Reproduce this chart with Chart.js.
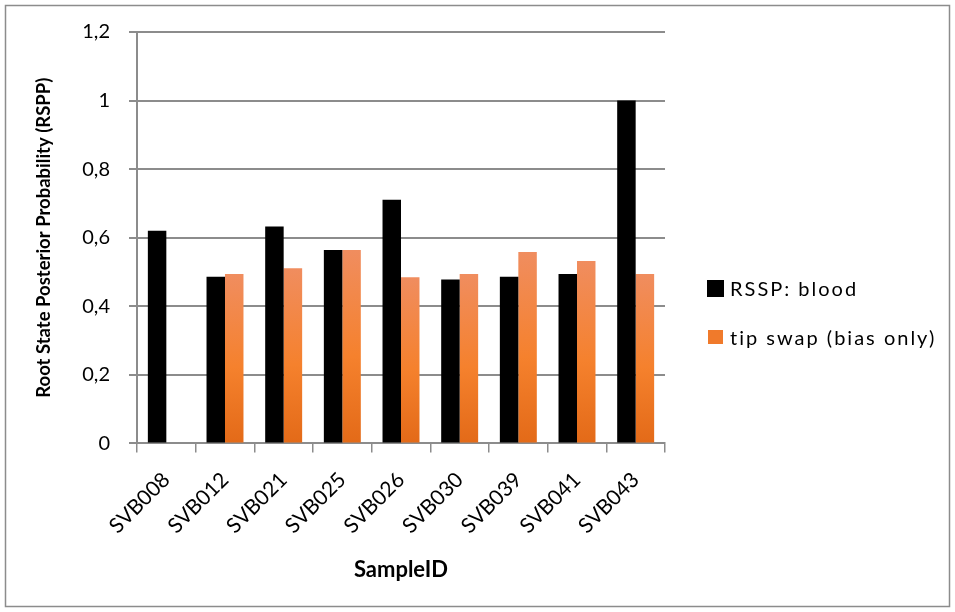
<!DOCTYPE html>
<html>
<head>
<meta charset="utf-8">
<script src="https://cdn.jsdelivr.net/npm/chart.js@4.4.1/dist/chart.umd.min.js"></script>
<style>
  body { margin: 0; background: #fff; }
  #wrap { position: relative; width: 955px; height: 612px; }
  #legend { position: absolute; left: 707px; top: 276px; font: 20px Lato, "Open Sans", sans-serif; letter-spacing: 2px; color: #000; }
  #legend .item { display: flex; align-items: center; height: 24px; margin-bottom: 25px; white-space: nowrap; }
  #legend .box { width: 17px; height: 17px; margin-right: 6px; }
  #legend .item + .item .box { width: 15px; height: 14px; margin: 0 7px 0 1px; }
</style>
</head>
<body>
<div id="wrap">
  <canvas id="chart"></canvas>
  <div id="legend"></div>
</div>
<script>
const samples = ['SVB008', 'SVB012', 'SVB021', 'SVB025', 'SVB026', 'SVB030', 'SVB039', 'SVB041', 'SVB043'];
const seriesNames = ['RSSP: blood', 'tip swap (bias only)'];
const rsspBlood = [0.62, 0.486, 0.633, 0.564, 0.711, 0.478, 0.486, 0.494, 1.0];
const tipSwap = [null, 0.494, 0.511, 0.564, 0.485, 0.494, 0.558, 0.532, 0.494];
const yMin = 0, yMax = 1.2, yStep = 0.2;

const FONT = 'Lato, "Open Sans", sans-serif';
const GRID = '#8c8c8c';
const swatches = ['#000000', '#F07A2B'];

// excel style gradient on each orange bar, lighter at the top
function orangeFill(c) {
  const chart = c.chart;
  const y = chart.scales && chart.scales.y;
  if (!chart.chartArea || !y || c.raw == null) return swatches[1];
  const top = y.getPixelForValue(c.raw);
  const bot = y.getPixelForValue(0);
  const g = chart.ctx.createLinearGradient(0, top, 0, bot);
  g.addColorStop(0, '#F08D5F');
  g.addColorStop(0.55, '#F5812D');
  g.addColorStop(1, '#E36A18');
  return g;
}

const frame = {
  id: 'frame',
  afterDraw(chart) {
    const ctx = chart.ctx;
    ctx.save();
    ctx.strokeStyle = GRID;
    ctx.lineWidth = 1.5;
    ctx.strokeRect(5.5, 5.5, 944, 601);
    ctx.restore();
  }
};

const chart = new Chart('chart', {
  type: 'bar',
  plugins: [frame],
  data: {
    labels: samples,
    datasets: [
      {
        label: seriesNames[0],
        data: rsspBlood,
        backgroundColor: swatches[0],
        categoryPercentage: 0.63,
        barPercentage: 1.0,
      },
      {
        label: seriesNames[1],
        data: tipSwap,
        backgroundColor: orangeFill,
        categoryPercentage: 0.63,
        barPercentage: 1.0,
      },
    ],
  },
  options: {
    responsive: true,
    maintainAspectRatio: false,
    animation: false,
    layout: { padding: { top: 32, left: 22, right: 290, bottom: 29 } },
    plugins: {
      tooltip: { enabled: false },
      legend: { display: false },
    },
    scales: {
      x: {
        grid: {
          offset: true,
          drawOnChartArea: false,
          color: GRID,
          lineWidth: 1.5,
          tickLength: 9,
        },
        border: { color: GRID, width: 2 },
        ticks: {
          minRotation: 45,
          maxRotation: 45,
          color: '#000',
          font: { family: FONT, size: 21 },
          padding: 15,
        },
        title: {
          display: true,
          text: 'SampleID',
          color: '#000',
          font: { family: FONT, size: 22, weight: 'bold' },
          padding: { top: 3, bottom: 0 },
        },
        // rotated labels fit under the y axis, no extra room needed
        afterFit: (s) => { s.paddingLeft = 0; },
      },
      y: {
        min: yMin,
        max: yMax,
        grid: { color: GRID, lineWidth: 2, tickLength: 8 },
        border: { color: GRID, width: 2 },
        ticks: {
          stepSize: yStep,
          color: '#000',
          font: { family: FONT, size: 20 },
          padding: 19,
          callback: (v) => String(+v.toFixed(1)).replace('.', ','),
        },
        title: {
          display: true,
          text: 'Root State Posterior Probability (RSPP)',
          color: '#000',
          font: { family: FONT, size: 18.5, weight: 'bold' },
          padding: { top: 11, bottom: 26 },
        },
        afterFit: (s) => { s.width = 115; },
      },
    },
  },
});

// html legend, so the spacing can follow the original
const legend = document.getElementById('legend');
chart.data.datasets.forEach((ds, i) => {
  const item = document.createElement('div');
  item.className = 'item';
  const box = document.createElement('span');
  box.className = 'box';
  box.style.background = swatches[i];
  item.appendChild(box);
  item.appendChild(document.createTextNode(ds.label));
  legend.appendChild(item);
});
</script>
</body>
</html>
